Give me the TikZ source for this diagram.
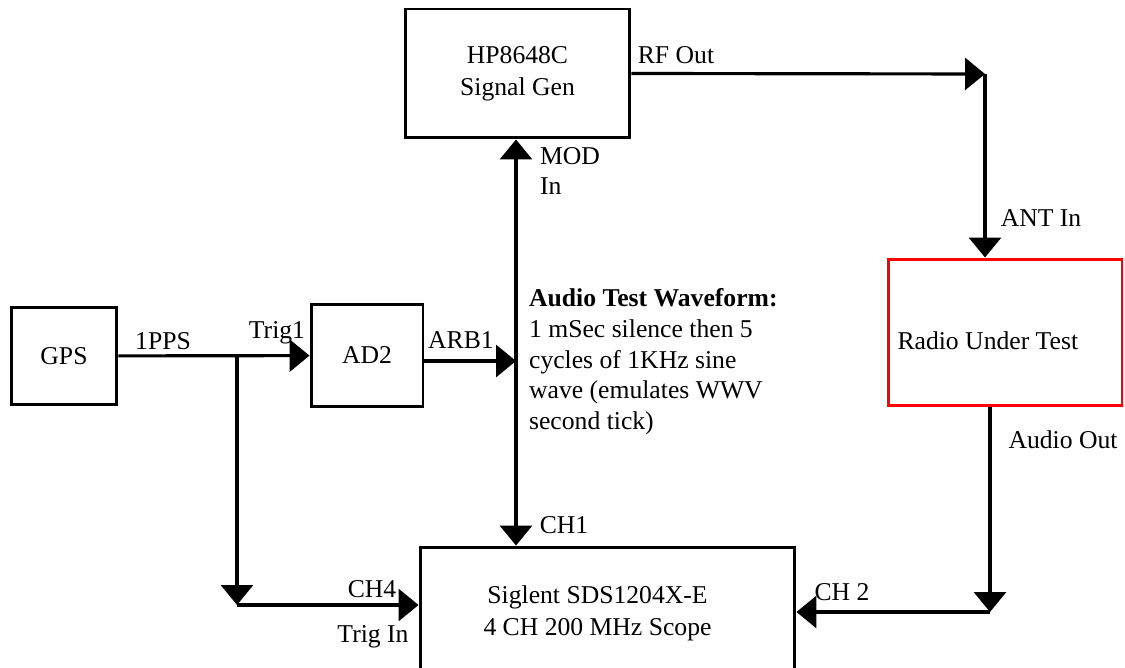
\documentclass[tikz,border=0pt]{standalone}
\usepackage{fontspec}
\setmainfont{Liberation Serif}
\usetikzlibrary{arrows.meta}

\begin{document}
\begin{tikzpicture}[x=0.02cm, y=-0.02cm,
        font=\fontsize{14.6}{17.6}\selectfont,
        unitbox/.style={draw, line width=1.7pt, align=center, inner sep=0pt},
        wire/.style={line width=1.8pt, -{Triangle[length=0.4cm, width=0.64cm]}},
        wirex/.style={line width=1.8pt, {Triangle[length=0.4cm, width=0.64cm]}-{Triangle[length=0.4cm, width=0.64cm]}},
        tag/.style={inner sep=1pt}]
    \useasboundingbox (0,0) rectangle (1125,668);

    % instruments
    \node[unitbox, minimum width=4.5cm, minimum height=2.58cm] (gen) at (517.5,73.5)
        {HP8648C\\[0.5pt]Signal Gen};
    \node[unitbox, minimum width=2.12cm, minimum height=1.96cm] (gps) at (64,356) {GPS};
    \node[unitbox, minimum width=2.24cm, minimum height=2.06cm] (ad2) at (367,355.5) {AD2};
    \node[unitbox, draw=red, minimum width=4.68cm, minimum height=2.94cm,
          text width=4.3cm, align=flush left, text height=0.75cm, text depth=0.05cm]
        (radio) at (1005,332.5) {Radio Under Test};
    \node[unitbox, minimum width=7.5cm, minimum height=2.66cm] (scope) at (607.5,613.5)
        {\hspace*{-0.4cm}Siglent SDS1204X-E\\[0.5pt]\hspace*{-0.4cm}4 CH 200 MHz Scope};

    % bends
    \coordinate (split) at (237,356);
    \coordinate (trig) at (237,605);
    \coordinate (bus) at (516,361);
    \coordinate (rfbend) at (985,74);
    \coordinate (afbend) at (990,612);

    % connections
    \draw[wire] (gps) -- (ad2);
    \draw[wire] (split) -- (trig);
    \draw[wire] (trig) -- (trig -| scope.west);
    \draw[wire] (ad2.east |- bus) -- (bus);
    \draw[wirex] (gen.south -| bus) -- (scope.north -| bus);
    \draw[wire] (gen.east) -- (rfbend);
    \draw[wire] (rfbend) -- (rfbend |- radio.north);
    \draw[wire] (radio.south -| afbend) -- (afbend);
    \draw[wire] (afbend) -- (afbend -| scope.east);

    % port labels
    \node[tag] (ppslbl) at (163,341) {1PPS};
    \node[tag] (trig1lbl) at (277,333) {Trig1};
    \node[tag] (arblbl) at (461,340) {ARB1};
    \node[tag, anchor=west, align=left] (modlbl) at (538,171) {MOD\\In};
    \node[tag] (ch1lbl) at (564,525) {CH1};
    \node[tag] (rflbl) at (676,55) {RF Out};
    \node[tag] (antlbl) at (1041,218) {ANT In};
    \node[tag] (aolbl) at (1063,440) {Audio Out};
    \node[tag] (ch2lbl) at (842,592) {CH 2};
    \node[tag] (ch4lbl) at (372,589) {CH4};
    \node[tag] (trinlbl) at (373,637) {Trig In};
    \node[tag, anchor=north west, align=left] (wavetxt) at (527,286)
        {\textbf{Audio Test Waveform:}\\1 mSec silence then 5\\cycles of 1KHz sine\\wave (emulates WWV\\second tick)};
\end{tikzpicture}
\end{document}
